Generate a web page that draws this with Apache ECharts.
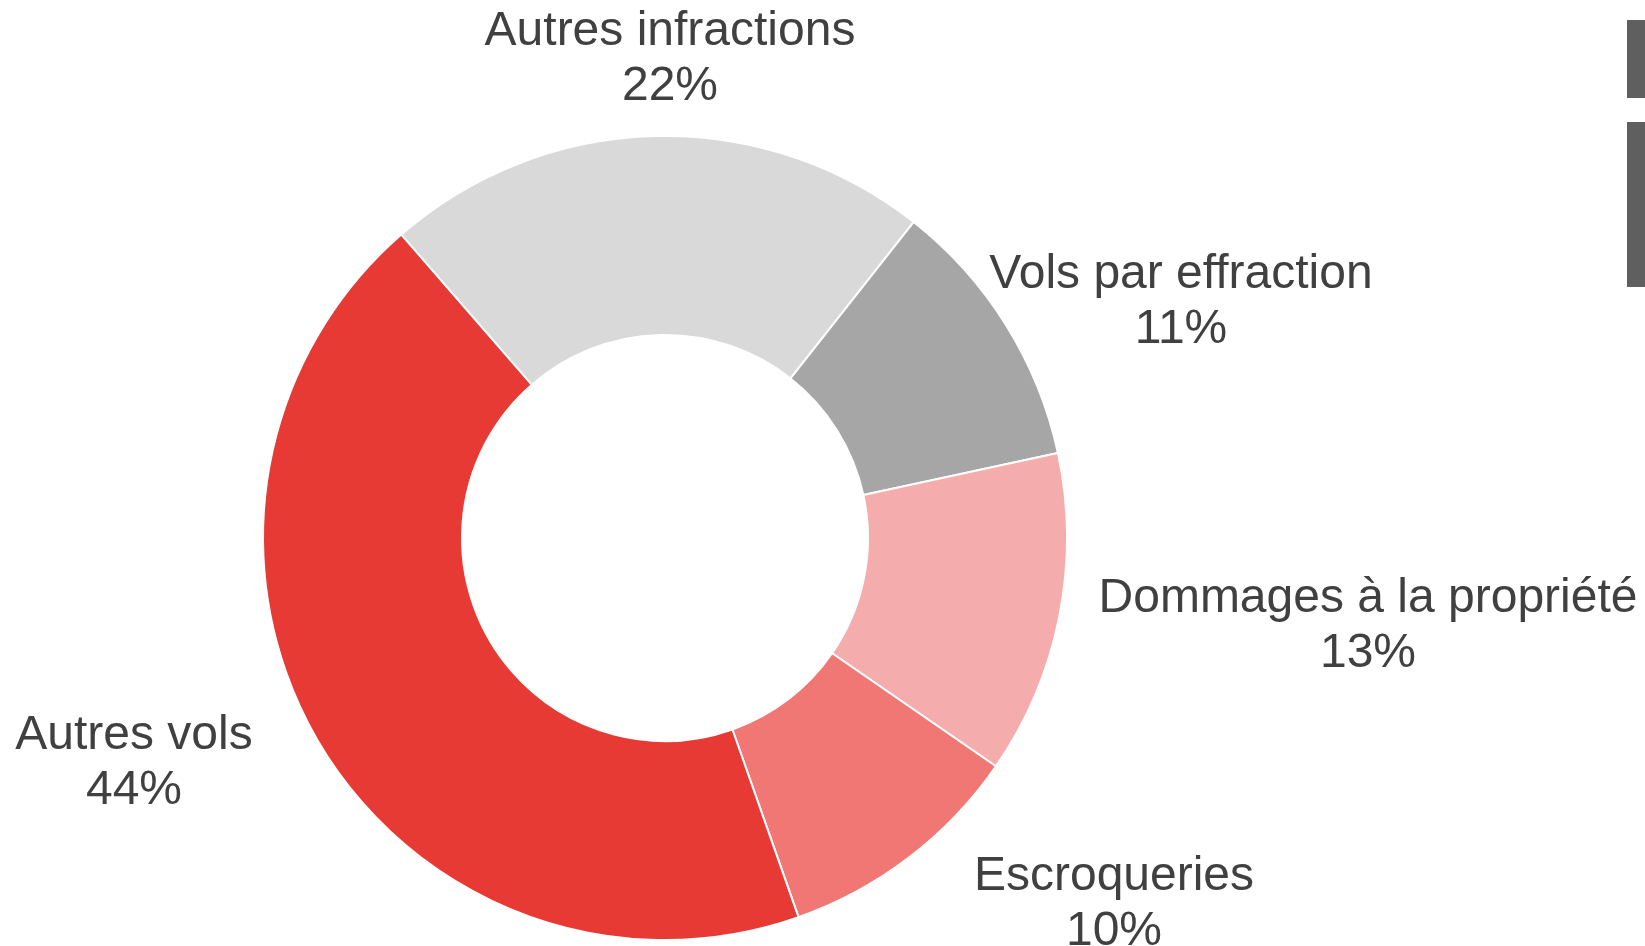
<!DOCTYPE html>
<html>
<head>
<meta charset="utf-8">
<script src="https://cdn.jsdelivr.net/npm/echarts@6/dist/echarts.min.js"></script>
<style>
  html, body { margin: 0; padding: 0; background: #fff; }
  #chart { width: 1645px; height: 946px; }
</style>
</head>
<body>
<div id="chart"></div>
<script>
// parts of offences, in percent, clockwise from the top
const categories = ['Autres infractions', 'Vols par effraction', 'Dommages à la propriété', 'Escroqueries', 'Autres vols'];
const shares = [22, 11, 13, 10, 44];
const colors = ['#D9D9D9', '#A6A6A6', '#F4ADAC', '#F07774', '#E83A35'];

// where each label block is centred (px)
const labelPos = [[670, 59], [1181, 302], [1368, 626], [1114, 904], [134, 763]];

const chart = echarts.init(document.getElementById('chart'));

chart.setOption({
  animation: false,
  backgroundColor: '#fff',
  textStyle: { fontFamily: 'Liberation Sans, Arial, sans-serif' },
  graphic: [
    { type: 'rect', shape: { x: 1627, y: 20, width: 20, height: 78 }, style: { fill: '#5F5F5F' } },
    { type: 'rect', shape: { x: 1627, y: 122, width: 20, height: 165 }, style: { fill: '#5F5F5F' } }
  ],
  series: [{
    type: 'pie',
    center: [665, 538],
    radius: [203, 402],
    startAngle: 131,
    clockwise: true,
    avoidLabelOverlap: false,
    itemStyle: { borderColor: '#fff', borderWidth: 2 },
    emphasis: { disabled: true },
    labelLine: { show: false },
    label: {
      show: true,
      position: 'outside',
      formatter: '{n|{b}}\n{p|{c}%}',
      rich: {
        n: { fontSize: 48, lineHeight: 55, color: '#404040', fontFamily: 'Liberation Sans' },
        p: { fontSize: 48, lineHeight: 55, color: '#404040', fontFamily: 'Liberation Sans' }
      }
    },
    labelLayout: function (params) {
      const pos = labelPos[params.dataIndex];
      return { x: pos[0], y: pos[1], align: 'center', verticalAlign: 'middle' };
    },
    data: categories.map(function (name, i) {
      return { name: name, value: shares[i], itemStyle: { color: colors[i] } };
    })
  }]
});
</script>
</body>
</html>
